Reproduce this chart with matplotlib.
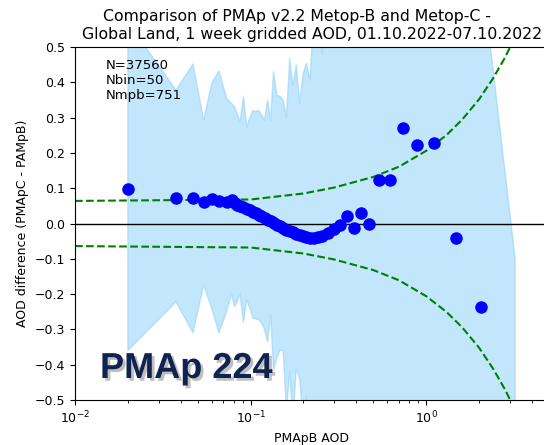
import matplotlib
matplotlib.use('Agg')
import matplotlib.pyplot as plt
import matplotlib.patheffects as pe
import numpy as np

# bin centres (PMApB AOD) and mean difference per bin
aod_b = [0.020, 0.0376, 0.047, 0.054, 0.060, 0.066, 0.073,
         0.078, 0.081, 0.084, 0.087, 0.091, 0.095, 0.099, 0.103, 0.107, 0.111,
         0.115, 0.120, 0.125, 0.130, 0.135, 0.141, 0.147, 0.153, 0.160, 0.167,
         0.174, 0.182, 0.190, 0.199, 0.208, 0.218, 0.229, 0.241, 0.256, 0.275,
         0.298, 0.323, 0.355, 0.389, 0.427, 0.473, 0.54, 0.62, 0.74, 0.89,
         1.10, 1.48, 2.06, 3.21]
diff_mean = [0.098, 0.072, 0.072, 0.062, 0.068, 0.064, 0.061,
             0.066, 0.058, 0.053, 0.050, 0.046, 0.042, 0.037, 0.033, 0.029, 0.025,
             0.021, 0.016, 0.011, 0.006, 0.002, -0.003, -0.008, -0.012, -0.017, -0.021,
             -0.025, -0.029, -0.033, -0.036, -0.039, -0.041, -0.041, -0.039, -0.034, -0.026,
             -0.016, -0.004, 0.021, -0.013, 0.030, 0.000, 0.122, 0.122, 0.270, 0.222,
             0.228, -0.041, -0.237, -0.65]
band_high = [0.57, 0.378, 0.452, 0.293, 0.396, 0.433, 0.355,
             0.34, 0.331, 0.31, 0.288, 0.359, 0.274, 0.30, 0.320, 0.318, 0.320,
             0.31, 0.293, 0.350, 0.293, 0.430, 0.364, 0.36, 0.350, 0.302, 0.468,
             0.392, 0.45, 0.34, 0.425, 0.454, 0.406, 0.60, 0.65, 0.48, 0.75,
             0.80, 0.90, 0.85, 0.95, 0.90, 1.00, 1.10, 1.00, 1.20, 1.10,
             1.30, 1.00, 0.72, -0.10]
band_low = [-0.36, -0.222, -0.31, -0.174, -0.24, -0.31, -0.25,
            -0.20, -0.235, -0.22, -0.20, -0.28, -0.217, -0.24, -0.268, -0.27, -0.273,
            -0.28, -0.30, -0.336, -0.26, -0.415, -0.38, -0.36, -0.36, -0.53, -0.42,
            -0.56, -0.41, -0.44, -0.55, -0.49, -0.62, -0.70, -0.75, -0.80, -0.80,
            -0.85, -0.90, -0.90, -0.95, -0.95, -1.00, -1.00, -1.05, -1.10, -1.10,
            -1.15, -1.15, -1.20, -1.20]

# dashed envelope
env_x = [0.01, 0.1, 0.2, 0.3, 0.5, 0.7, 1.0, 1.3, 1.6, 2.0, 2.4, 2.8, 3.2, 3.6]
env_y = [0.064, 0.068, 0.085, 0.102, 0.132, 0.161, 0.206, 0.250, 0.294, 0.352,
         0.411, 0.469, 0.527, 0.585]

fig = plt.figure(figsize=(5.44, 4.45), dpi=100)
ax = fig.add_axes([75/544, 45/445, 474/544, 353/445])

ax.fill_between(aod_b, band_low, band_high, color='lightskyblue', alpha=0.5)
ax.axhline(0, color='k', lw=1)
ax.plot(env_x, env_y, '--', color='green', lw=1.5)
ax.plot(env_x, [-v for v in env_y], '--', color='green', lw=1.5)
ax.plot(aod_b, diff_mean, 'o', color='blue', ms=8)

ax.set_xscale('log')
ax.set_xlim(0.01, 5)
ax.set_ylim(-0.5, 0.5)
ax.set_yticks(np.arange(-0.5, 0.51, 0.1))
ax.tick_params(labelsize=9)
ax.set_xlabel('PMApB AOD', fontsize=9)
ax.set_ylabel('AOD difference (PMApC - PAMpB)', fontsize=9)
ax.set_title('Comparison of PMAp v2.2 Metop-B and Metop-C -      \n'
             'Global Land, 1 week gridded AOD, 01.10.2022-07.10.2022',
             fontsize=11.3, pad=6)

ax.text(0.065, 0.965, 'N=37560\nNbin=50\nNmpb=751', transform=ax.transAxes,
        fontsize=9.5, va='top', ha='left')

fig.text(100/544, 67/445, 'PMAp 224', fontsize=26, fontweight='bold',
         family='Liberation Sans', color='#0f2350', va='baseline', ha='left',
         path_effects=[pe.SimplePatchShadow(offset=(2, -2), shadow_rgbFace='gray', alpha=0.5),
                       pe.Normal()])

fig.savefig('out.png', dpi=100)
